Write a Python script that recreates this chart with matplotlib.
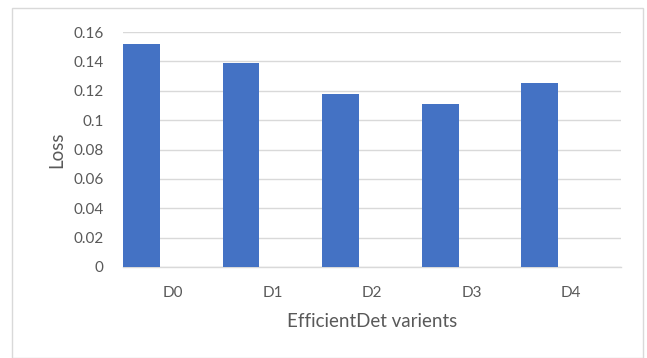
import matplotlib
matplotlib.use("Agg")
import matplotlib.pyplot as plt
from matplotlib.patches import Rectangle

# Data
variants = ["D0", "D1", "D2", "D3", "D4"]
loss = [0.152, 0.139, 0.118, 0.111, 0.125]
y_ticks = [0, 0.02, 0.04, 0.06, 0.08, 0.1, 0.12, 0.14, 0.16]
y_tick_labels = ["0", "0.02", "0.04", "0.06", "0.08", "0.1", "0.12", "0.14", "0.16"]

plt.rcParams["font.family"] = ["Lato", "DejaVu Sans"]
text_color = "#595959"
grid_color = "#d9d9d9"

fig = plt.figure(figsize=(6.47, 3.58), dpi=100)
fig.patch.set_facecolor("white")

# chart-area frame
fig.patches.append(Rectangle((12 / 647, 0.5 / 358), 631 / 647, (358 - 8.5) / 358,
                             transform=fig.transFigure, fill=False,
                             edgecolor=grid_color, linewidth=1.0))

ax = fig.add_axes([123 / 647, 1 - 267 / 358, 498 / 647, 235 / 358])

x = list(range(len(variants)))
bar_left = [i - 0.5 for i in x]
ax.bar(bar_left, loss, width=0.37, align="edge", color="#4472C4", zorder=3)

ax.set_xlim(-0.5, len(variants) - 0.5)
ax.set_ylim(0, 0.16)
ax.set_yticks(y_ticks)
ax.set_yticklabels(y_tick_labels)
ax.set_xticks(x)
ax.set_xticklabels(variants)

ax.yaxis.grid(True, color=grid_color, linewidth=1.0, zorder=0)
ax.set_axisbelow(True)
for side in ("top", "right", "left"):
    ax.spines[side].set_visible(False)
ax.spines["bottom"].set_color(grid_color)
ax.spines["bottom"].set_linewidth(1.0)

ax.tick_params(axis="both", length=0, colors=text_color, labelsize=11)
ax.tick_params(axis="y", pad=14)
ax.tick_params(axis="x", pad=14)

ax.set_xlabel("EfficientDet varients", fontsize=13.5, color=text_color, labelpad=9)
ax.set_ylabel("Loss", fontsize=13.5, color=text_color, labelpad=6)

fig.savefig("out.png", dpi=100)
